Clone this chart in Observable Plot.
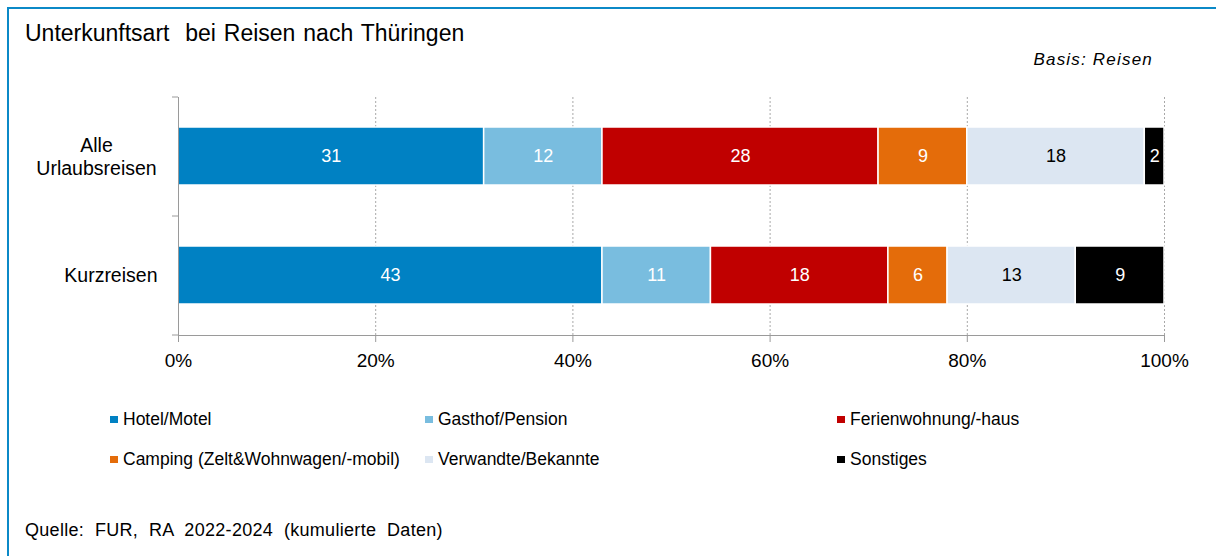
<!DOCTYPE html>
<html>
<head>
<meta charset="utf-8">
<script src="https://cdn.jsdelivr.net/npm/d3@7"></script>
<script src="https://cdn.jsdelivr.net/npm/@observablehq/plot@0.6"></script>
<style>
  html, body { margin: 0; padding: 0; background: #fff; }
  body { font-family: "Liberation Sans", Arial, sans-serif; color: #000; }
  #wrap { position: relative; width: 1216px; height: 556px; overflow: hidden; background: #fff; }
  #border { position: absolute; left: 7px; top: 7px; width: 1300px; height: 700px; z-index: 5; pointer-events: none;
            border-left: 2px solid #0b89c7; border-top: 2px solid #0b89c7; box-sizing: border-box; }
  .abs { position: absolute; white-space: pre; line-height: 1; }
  #title { left: 25px; top: 22px; font-size: 23px; word-spacing: 1.5px; }
  #basis { right: 63px; top: 51px; font-size: 17px; font-style: italic; letter-spacing: 1.2px; }
  #chart { position: absolute; left: 0; top: 80px; }
  .leg { position: absolute; display: flex; align-items: center; font-size: 17.5px; line-height: 1; white-space: pre; }
  .leg .sw { width: 8px; height: 7px; margin-right: 5px; }
  #source { left: 25px; top: 521px; font-size: 18px; letter-spacing: 0.3px; word-spacing: 5.5px; }
</style>
</head>
<body>
<div id="wrap">
  <div id="title" class="abs"></div>
  <div id="basis" class="abs"></div>
  <div id="chart"></div>
  <div id="legend"></div>
  <div id="source" class="abs"></div>
  <div id="border"></div>
</div>
<script>
// ---- data ----
const titleText = "Unterkunftsart  bei Reisen nach Thüringen";
const basisText = "Basis: Reisen";
const sourceText = "Quelle: FUR, RA 2022-2024 (kumulierte Daten)";
const categories = ["Alle Urlaubsreisen", "Kurzreisen"];
const categoryLabels = ["Alle\nUrlaubsreisen", "Kurzreisen"];
const types = ["Hotel/Motel", "Gasthof/Pension", "Ferienwohnung/-haus", "Camping (Zelt&Wohnwagen/-mobil)", "Verwandte/Bekannte", "Sonstiges"];
const typeColors = ["#0081c3", "#79bddf", "#c00000", "#e46c0a", "#dce6f2", "#000000"];
const alleValues = [31, 12, 28, 9, 18, 2];
const kurzValues = [43, 11, 18, 6, 13, 9];
const xTicks = [0, 20, 40, 60, 80, 100];
const gridTicks = [20, 40, 60, 80, 100];
const darkLabelTypes = ["Verwandte/Bekannte"];

// ---- table ----
const seriesValues = [alleValues, kurzValues];
const rows = [];
categories.forEach((c, ci) => types.forEach((t, ti) => rows.push({cat: c, type: t, value: seriesValues[ci][ti]})));

document.getElementById("title").textContent = titleText;
document.getElementById("basis").textContent = basisText;
document.getElementById("source").textContent = sourceText;

// ---- plot ----
const W = 1216, H = 305, mT = 17, mB = 50, mL = 178, mR = 52;
const step = (H - mT - mB) / categories.length;
const labelOf = c => categoryLabels[categories.indexOf(c)];
const axisGray = "#9a9a9a";
const isDark = d => darkLabelTypes.includes(d.type);

const stack = opts => Plot.stackX({x: "value", y: "cat", z: "type", order: null, ...opts});

const chart = Plot.plot({
  width: W, height: H,
  marginTop: mT, marginBottom: mB, marginLeft: mL, marginRight: mR,
  style: {fontFamily: "'Liberation Sans', Arial, sans-serif", background: "transparent", color: "black"},
  x: {domain: [0, 100], axis: null},
  y: {domain: categories, paddingInner: 0.51, paddingOuter: 0.255, axis: null},
  color: {domain: types, range: typeColors},
  marks: [
    Plot.ruleX(gridTicks, {stroke: "#a8a8a8", strokeDasharray: "2,2", strokeWidth: 1}),
    Plot.barX(rows, stack({fill: "type", stroke: "white", strokeWidth: 1.5})),
    Plot.text(rows, stack({text: d => isDark(d) ? "" : String(d.value), fill: "white", fontSize: 18})),
    Plot.text(rows, stack({text: d => isDark(d) ? String(d.value) : "", fill: "black", fontSize: 18})),
    Plot.ruleX([0], {stroke: axisGray, strokeWidth: 1}),
    Plot.frame({anchor: "bottom", stroke: axisGray, strokeWidth: 1}),
    Plot.axisX({ticks: xTicks, tickFormat: d => d + "%", tickSize: 7, tickPadding: 11, fontSize: 19, stroke: axisGray, fill: "black", label: null}),
    Plot.axisY({ticks: categories, tickSize: 6, tickFormat: () => "", dy: -step / 2, stroke: axisGray, label: null}),
    Plot.axisY({ticks: categories.slice(-1), tickSize: 6, tickFormat: () => "", dy: step / 2, stroke: axisGray, label: null}),
    Plot.text(categories.filter(c => labelOf(c).includes("\n")), {y: d => d, text: labelOf, frameAnchor: "left", textAnchor: "middle", dx: -82, fontSize: 19.5, lineHeight: 1.18, fill: "black"}),
    Plot.text(categories.filter(c => !labelOf(c).includes("\n")), {y: d => d, text: labelOf, frameAnchor: "left", textAnchor: "end", dx: -21, fontSize: 19.5, fill: "black"})
  ]
});
document.getElementById("chart").appendChild(chart);

// ---- legend ----
const legCols = [110, 425, 837];
const legRows = [411, 451];
const legend = document.getElementById("legend");
types.forEach((t, i) => {
  const el = document.createElement("div");
  el.className = "leg";
  el.style.left = legCols[i % 3] + "px";
  el.style.top = legRows[Math.floor(i / 3)] + "px";
  const sw = document.createElement("span");
  sw.className = "sw";
  sw.style.background = typeColors[i];
  const tx = document.createElement("span");
  tx.textContent = t;
  el.appendChild(sw); el.appendChild(tx);
  legend.appendChild(el);
});
</script>
</body>
</html>
